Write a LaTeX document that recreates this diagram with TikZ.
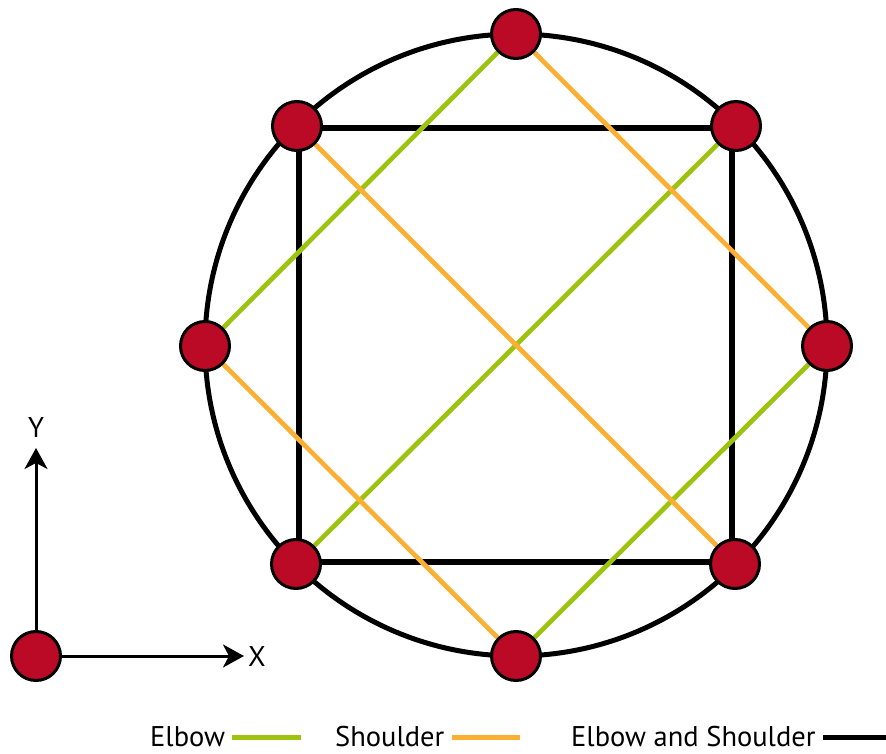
\documentclass[tikz,border=0pt]{standalone}
\usepackage{fontspec}
\setmainfont{PT Sans}
\usetikzlibrary{arrows.meta,backgrounds,calc}
\definecolor{jred}{HTML}{BA0A25}
\definecolor{jgreen}{HTML}{9DC30F}
\definecolor{jorange}{HTML}{FBB034}
\tikzset{
  joint/.style={circle,draw=black,line width=3pt,fill=jred,minimum size=49pt,inner sep=0pt},
  elbowline/.style={draw=jgreen,line width=4.7pt},
  shoulderline/.style={draw=jorange,line width=4.7pt},
  bothline/.style={draw=black,line width=5.3pt},
  axisline/.style={draw=black,line width=3pt,-{Stealth[length=21pt,width=23pt,inset=6pt]}},
  lbl/.style={font=\fontsize{28.5}{32}\selectfont,inner sep=0pt}
}
\begin{document}
\begin{tikzpicture}[x=1pt,y=-1pt]
\useasboundingbox (0,0) rectangle (886,754);
\coordinate (C) at (516,345);
\node[joint] (T) at (516,34) {};
\node[joint] (UL) at (297,126) {};
\node[joint] (UR) at (736,126) {};
\node[joint] (L) at (205,346) {};
\node[joint] (R) at (827,346) {};
\node[joint] (LL) at (296,564) {};
\node[joint] (LR) at (735,564) {};
\node[joint] (B) at (516,656) {};
\node[joint] (O) at (36,656) {};
\begin{scope}[on background layer]
  \draw[line width=5pt] (C) circle (311);
  \draw[bothline] ($(UL.center)+(2,2)$) -- ($(UR.center)+(-4,2)$) -- ($(LR.center)+(-3,-2)$) -- ($(LL.center)+(3,-2)$) -- cycle;
  \draw[elbowline] (T.center) -- (L.center);
  \draw[elbowline] (UR.center) -- (LL.center);
  \draw[elbowline] (R.center) -- (B.center);
  \draw[shoulderline] (T.center) -- (R.center);
  \draw[shoulderline] (UL.center) -- (LR.center);
  \draw[shoulderline] (L.center) -- (B.center);
\end{scope}
\coordinate (Xend) at (244,656);
\coordinate (Yend) at (36,448);
\draw[axisline] (O) -- (Xend);
\draw[axisline] (O) -- (Yend);
\node[lbl,anchor=west] (xl) at (248,657) {X};
\node[lbl] (yl) at (36,428) {Y};
% legend
\node[lbl,anchor=base west] (le) at (150,746) {Elbow};
\coordinate (g1) at (232,737); \coordinate (g2) at (301,737);
\draw[draw=jgreen,line width=5pt] (g1) -- (g2);
\node[lbl,anchor=base west] (ls) at (335,746) {Shoulder};
\coordinate (o1) at (452,737); \coordinate (o2) at (520,737);
\draw[draw=jorange,line width=5pt] (o1) -- (o2);
\node[lbl,anchor=base west] (lb) at (571,746) {Elbow and Shoulder};
\coordinate (k1) at (823,737); \coordinate (k2) at (886,737);
\draw[draw=black,line width=5pt] (k1) -- (k2);
\end{tikzpicture}
\end{document}
